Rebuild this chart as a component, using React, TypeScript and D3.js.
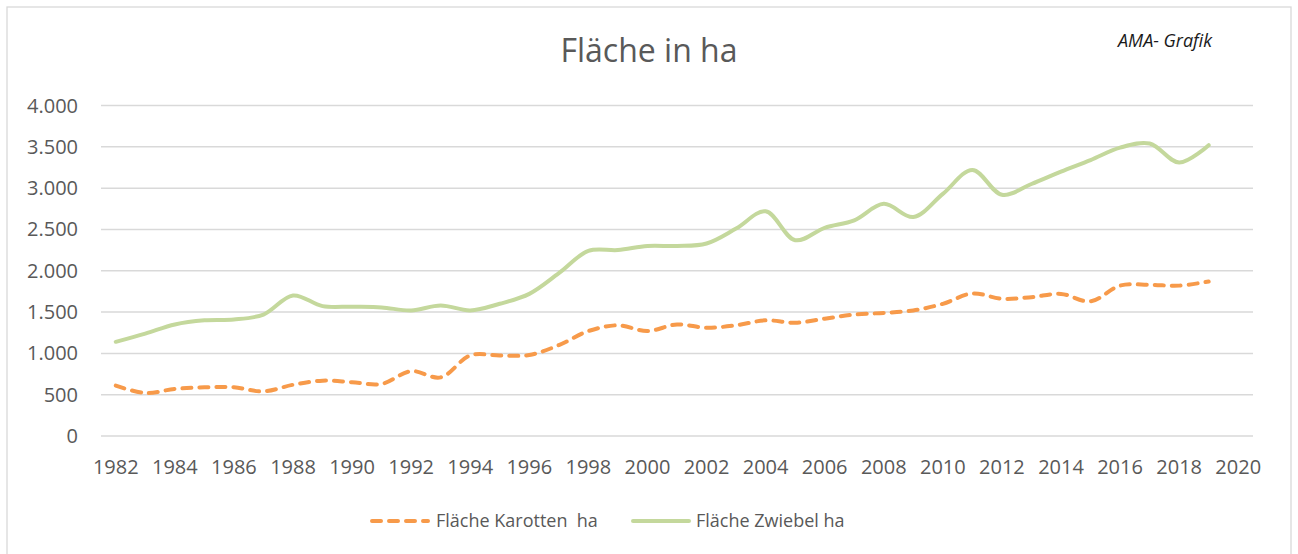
import { useEffect, useRef } from 'react'
import * as d3 from 'd3'

const years = [
  1982, 1983, 1984, 1985, 1986, 1987, 1988, 1989, 1990, 1991, 1992, 1993, 1994,
  1995, 1996, 1997, 1998, 1999, 2000, 2001, 2002, 2003, 2004, 2005, 2006, 2007,
  2008, 2009, 2010, 2011, 2012, 2013, 2014, 2015, 2016, 2017, 2018, 2019,
]

const karotten = [
  610, 520, 570, 590, 590, 540, 620, 670, 650, 630, 785, 710, 975,
  975, 980, 1100, 1270, 1340, 1270, 1350, 1310, 1340, 1400, 1370, 1420, 1470,
  1490, 1520, 1600, 1725, 1660, 1680, 1720, 1630, 1820, 1830, 1820, 1870,
]

const zwiebel = [
  1140, 1240, 1350, 1400, 1410, 1470, 1700, 1572, 1565, 1556, 1520, 1580, 1520,
  1600, 1720, 1970, 2240, 2250, 2300, 2300, 2330, 2510, 2720, 2370, 2520, 2610,
  2810, 2650, 2930, 3220, 2920, 3050, 3200, 3340, 3490, 3540, 3310, 3520,
]

const xTicks = d3.range(1982, 2021, 2)
const yTicks = d3.range(0, 4001, 500)

const seriesNames = ['Fläche Karotten  ha', 'Fläche Zwiebel ha']
const colors = ['#f79a4a', '#c4d89c']

const App = () => {
  const svgRef = useRef<SVGSVGElement | null>(null)
  const width = 1298
  const height = 554
  const margin = { top: 105.5, right: 45, bottom: 118, left: 101 }

  useEffect(() => {
    if (!svgRef.current) return
    const svg = d3.select(svgRef.current)
    svg.selectAll('*').remove()

    const font = "'Open Sans', sans-serif"
    const textColor = '#595959'

    // chart border
    svg.append('rect')
      .attr('x', 7)
      .attr('y', 7)
      .attr('width', 1284)
      .attr('height', 560)
      .attr('fill', 'white')
      .attr('stroke', '#d9d9d9')
      .attr('stroke-width', 1.3)

    const x = d3.scaleLinear()
      .domain([1981.5, 2020.5])
      .range([margin.left, width - margin.right])
    const y = d3.scaleLinear()
      .domain([0, 4000])
      .range([height - margin.bottom, margin.top])

    // gridlines
    svg.append('g')
      .selectAll('line')
      .data(yTicks)
      .enter()
      .append('line')
      .attr('x1', x.range()[0])
      .attr('x2', x.range()[1])
      .attr('y1', d => y(d))
      .attr('y2', d => y(d))
      .attr('stroke', '#d9d9d9')
      .attr('stroke-width', 1.5)

    const fmt = (v: number) => d3.format(',')(v).replace(/,/g, '.')

    // y labels
    svg.append('g')
      .selectAll('text')
      .data(yTicks)
      .enter()
      .append('text')
      .attr('x', 78)
      .attr('y', d => y(d))
      .attr('dy', '0.35em')
      .attr('text-anchor', 'end')
      .attr('fill', textColor)
      .style('font-family', font)
      .style('font-size', '20px')
      .text(d => fmt(d))

    // x labels
    svg.append('g')
      .selectAll('text')
      .data(xTicks)
      .enter()
      .append('text')
      .attr('x', d => x(d))
      .attr('y', 474)
      .attr('text-anchor', 'middle')
      .attr('fill', textColor)
      .style('font-family', font)
      .style('font-size', '20px')
      .text(d => String(d))

    const line = d3.line<number>()
      .x((_, i) => x(years[i]))
      .y(d => y(d))
      .curve(d3.curveCatmullRom.alpha(0.5))

    svg.append('path')
      .datum(zwiebel)
      .attr('d', line)
      .attr('fill', 'none')
      .attr('stroke', colors[1])
      .attr('stroke-width', 4)
      .attr('stroke-linecap', 'round')
      .attr('stroke-linejoin', 'round')

    svg.append('path')
      .datum(karotten)
      .attr('d', line)
      .attr('fill', 'none')
      .attr('stroke', colors[0])
      .attr('stroke-width', 4)
      .attr('stroke-dasharray', '9 8')
      .attr('stroke-linecap', 'round')

    // title
    svg.append('text')
      .attr('x', 649)
      .attr('y', 62)
      .attr('text-anchor', 'middle')
      .attr('fill', textColor)
      .style('font-family', font)
      .style('font-size', '32px')
      .text('Fläche in ha')

    svg.append('text')
      .attr('x', 1118)
      .attr('y', 47)
      .attr('fill', '#1a1a1a')
      .style('font-family', font)
      .style('font-size', '18px')
      .style('font-style', 'italic')
      .text('AMA- Grafik')

    // legend
    const legend = [
      { x1: 372, x2: 428, tx: 436, dash: '9 8' },
      { x1: 633, x2: 689, tx: 696, dash: null },
    ]
    legend.forEach((l, i) => {
      const ln = svg.append('line')
        .attr('x1', l.x1)
        .attr('x2', l.x2)
        .attr('y1', 521)
        .attr('y2', 521)
        .attr('stroke', colors[i])
        .attr('stroke-width', 4)
        .attr('stroke-linecap', 'round')
      if (l.dash) ln.attr('stroke-dasharray', l.dash)
      svg.append('text')
        .attr('x', l.tx)
        .attr('y', 527)
        .attr('fill', textColor)
        .style('font-family', font)
        .style('font-size', '18px')
        .style('white-space', 'pre')
        .text(seriesNames[i])
    })
  }, [])

  return (
    <svg
      ref={svgRef}
      width={width}
      height={height}
      style={{ position: 'absolute', left: 0, top: 0, display: 'block' }}
    />
  )
}

export default App
